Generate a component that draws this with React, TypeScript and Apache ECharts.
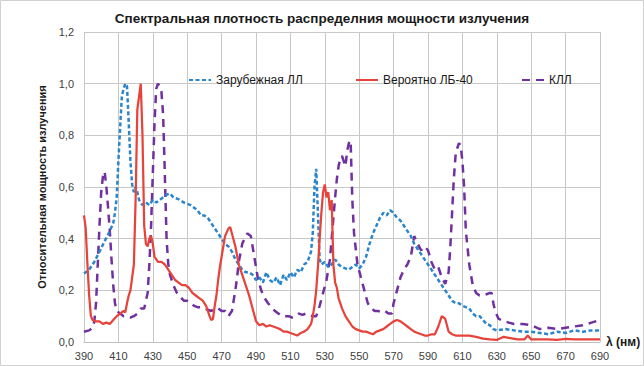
import React, { useEffect, useRef } from "react";
import * as echarts from "echarts";

const TITLE = "Спектральная плотность распределния мощности излучения";
const Y_NAME = "Относительная мощность излучения";
const X_NAME = "λ (нм)";
const SERIES_NAMES = ["Зарубежная ЛЛ", "Вероятно ЛБ-40", "КЛЛ"];

const blueWl = [390,393,396,399,402,405,407,408,409,410,411,412,413,414,415,416,417,418,419,420,421,422,424,426,428,430,432,434,436,438,440,442,444,446,448,450,452,454,456,458,460,462,464,466,468,470,472,474,476,478,480,482,484,486,488,490,492,494,496,498,500,502,504,506,508,510,512,514,516,518,520,522,523,524,525,526,527,528,530,532,534,536,538,540,542,544,546,548,550,552,554,556,558,560,562,564,566,568,570,572,574,576,578,580,582,584,586,588,590,592,594,596,598,600,602,604,606,608,610,612,614,616,618,620,622,624,626,628,630,635,640,645,650,655,660,665,670,675,680,685,690];
const blueVal = [0.265,0.28,0.31,0.35,0.39,0.43,0.46,0.5,0.56,0.7,0.83,0.95,0.98,1.0,0.99,0.85,0.7,0.61,0.58,0.6,0.58,0.55,0.53,0.54,0.53,0.55,0.54,0.55,0.56,0.57,0.575,0.56,0.555,0.55,0.54,0.535,0.53,0.52,0.51,0.49,0.49,0.48,0.46,0.44,0.42,0.4,0.38,0.37,0.35,0.32,0.3,0.28,0.27,0.27,0.26,0.24,0.25,0.23,0.27,0.24,0.23,0.25,0.22,0.26,0.24,0.27,0.25,0.28,0.27,0.3,0.31,0.35,0.42,0.6,0.67,0.5,0.32,0.3,0.31,0.29,0.3,0.32,0.3,0.29,0.285,0.28,0.29,0.3,0.285,0.3,0.33,0.38,0.42,0.45,0.48,0.5,0.49,0.51,0.5,0.48,0.47,0.45,0.43,0.41,0.38,0.36,0.34,0.32,0.3,0.28,0.26,0.24,0.22,0.2,0.18,0.16,0.15,0.15,0.14,0.135,0.13,0.11,0.1,0.1,0.085,0.07,0.065,0.05,0.045,0.05,0.045,0.04,0.04,0.035,0.03,0.04,0.035,0.045,0.04,0.045,0.045];

const redWl = [390,391,392,393,394,395,397,399,401,403,405,407,409,411,413,414,415,416,417,418,419,420,421,422,423,424,425,426,427,428,429,430,431,433,435,437,439,441,443,445,447,449,451,453,455,457,459,461,462,463,464,465,466,467,468,469,470,472,474,475,476,478,480,482,484,486,488,490,492,494,496,498,500,502,504,506,508,510,512,514,516,518,520,522,523,524,525,526,527,528,529,530,531,532,533,534,535,536,537,538,540,542,544,546,548,550,552,554,556,558,560,562,564,566,568,570,572,574,576,578,580,582,584,586,588,590,592,594,596,598,600,602,604,606,610,614,618,622,626,630,634,638,642,646,648,650,655,660,665,670,675,680,685,690];
const redVal = [0.49,0.44,0.3,0.18,0.1,0.085,0.08,0.08,0.07,0.075,0.07,0.085,0.1,0.11,0.12,0.115,0.15,0.18,0.2,0.25,0.3,0.55,0.9,0.95,1.0,0.8,0.45,0.38,0.37,0.4,0.41,0.38,0.33,0.31,0.31,0.3,0.28,0.26,0.24,0.23,0.22,0.22,0.21,0.19,0.18,0.17,0.16,0.14,0.12,0.1,0.085,0.09,0.14,0.18,0.24,0.29,0.33,0.41,0.44,0.445,0.42,0.37,0.3,0.26,0.22,0.18,0.13,0.08,0.065,0.07,0.06,0.065,0.06,0.055,0.05,0.04,0.04,0.035,0.03,0.025,0.035,0.04,0.05,0.07,0.1,0.14,0.2,0.29,0.4,0.5,0.58,0.61,0.56,0.58,0.51,0.55,0.3,0.23,0.21,0.17,0.13,0.1,0.08,0.06,0.05,0.045,0.04,0.04,0.035,0.03,0.04,0.045,0.05,0.06,0.07,0.08,0.085,0.08,0.07,0.06,0.05,0.04,0.035,0.03,0.025,0.025,0.03,0.03,0.06,0.1,0.09,0.04,0.03,0.025,0.025,0.025,0.02,0.013,0.01,0.008,0.02,0.015,0.01,0.01,0.025,0.01,0.01,0.01,0.008,0.012,0.01,0.01,0.01,0.01];

const purpleWl = [390,393,395,396,397,398,399,400,401,402,403,404,405,406,407,408,409,411,413,415,417,419,421,423,425,426,427,428,429,430,431,432,433,434,435,436,437,438,439,440,442,444,446,448,450,452,454,456,458,460,462,464,466,468,470,472,474,476,477,478,479,480,482,484,485,487,489,491,493,495,497,499,501,503,505,507,509,511,513,515,517,519,521,523,525,527,529,531,533,535,536,537,538,539,540,541,542,543,544,545,546,547,548,549,551,553,555,557,559,561,563,565,567,569,570,572,574,576,578,580,582,584,586,588,590,592,594,596,598,600,602,603,604,605,606,607,608,609,610,611,612,614,616,618,620,622,624,626,627,628,629,631,634,637,640,645,650,655,660,665,670,675,680,685,690];
const purpleVal = [0.04,0.045,0.055,0.08,0.15,0.3,0.45,0.58,0.64,0.66,0.6,0.52,0.43,0.32,0.22,0.15,0.12,0.11,0.1,0.1,0.095,0.1,0.11,0.13,0.13,0.16,0.19,0.3,0.45,0.65,0.85,0.98,1.0,0.99,0.97,0.88,0.65,0.4,0.3,0.26,0.22,0.19,0.175,0.16,0.16,0.15,0.14,0.135,0.135,0.13,0.125,0.12,0.13,0.13,0.12,0.12,0.1,0.12,0.16,0.2,0.25,0.31,0.38,0.41,0.42,0.41,0.33,0.25,0.2,0.17,0.15,0.135,0.12,0.11,0.1,0.1,0.1,0.095,0.1,0.11,0.105,0.11,0.105,0.1,0.1,0.14,0.19,0.24,0.32,0.48,0.56,0.63,0.68,0.71,0.72,0.7,0.68,0.74,0.77,0.78,0.55,0.42,0.36,0.3,0.25,0.2,0.15,0.13,0.12,0.12,0.115,0.12,0.11,0.11,0.15,0.2,0.25,0.28,0.3,0.33,0.41,0.38,0.355,0.37,0.355,0.31,0.28,0.29,0.25,0.225,0.27,0.37,0.5,0.63,0.72,0.75,0.77,0.76,0.7,0.6,0.43,0.3,0.22,0.19,0.18,0.18,0.185,0.19,0.19,0.15,0.12,0.09,0.08,0.075,0.07,0.07,0.065,0.05,0.055,0.05,0.055,0.06,0.065,0.075,0.085];

const FONT = "'Liberation Sans', Arial, sans-serif";

const pairs = (xs: number[], ys: number[]) => xs.map((x, i) => [x, ys[i]]);

export default function App() {
  const ref = useRef<HTMLDivElement>(null);
  useEffect(() => {
    if (!ref.current) return;
    const chart = echarts.init(ref.current, undefined, { renderer: "svg" });
    const legendText = { fontFamily: FONT, fontSize: 12, color: "#1a1a1a" };
    const legendBase = {
      top: 69,
      itemWidth: 22,
      itemHeight: 14,
      itemGap: 2,
      textStyle: legendText,
      itemStyle: { opacity: 0 },
    };
    chart.setOption({
      animation: false,
      backgroundColor: "#ffffff",
      textStyle: { fontFamily: FONT },
      title: {
        text: TITLE,
        left: "center",
        top: 6,
        textStyle: { fontFamily: FONT, fontSize: 13.5, fontWeight: "bold", color: "#1a1a1a" },
      },
      graphic: [
        {
          type: "rect",
          shape: { x: 0.5, y: 0.5, width: 643, height: 365 },
          style: { fill: "none", stroke: "#d0d0d0", lineWidth: 1 },
          silent: true,
        },
      ],
      legend: [
        { ...legendBase, data: [SERIES_NAMES[0]], left: 183 },
        { ...legendBase, data: [SERIES_NAMES[1]], left: 350 },
        { ...legendBase, data: [SERIES_NAMES[2]], left: 516 },
      ],
      grid: { left: 84, right: 44, top: 32, bottom: 24, containLabel: false },
      xAxis: {
        type: "value",
        min: 390,
        max: 690,
        interval: 20,
        name: X_NAME,
        nameLocation: "end",
        nameGap: 6,
        nameTextStyle: { fontFamily: FONT, fontSize: 12, fontWeight: "bold", color: "#1a1a1a", verticalAlign: "middle", padding: [0, 0, 10, 0] },
        axisLine: { show: true, lineStyle: { color: "#bfbfbf", width: 1 } },
        axisTick: { show: false },
        axisLabel: { fontFamily: FONT, fontSize: 11, color: "#404040", margin: 8 },
        splitLine: { show: true, lineStyle: { color: "#c8c8c8", width: 1 } },
      },
      yAxis: {
        type: "value",
        min: 0,
        max: 1.2,
        interval: 0.2,
        name: Y_NAME,
        nameLocation: "middle",
        nameGap: 30,
        nameRotate: 90,
        nameTextStyle: { fontFamily: FONT, fontSize: 11, fontWeight: "bold", color: "#1a1a1a" },
        axisLine: { show: false },
        axisTick: { show: false },
        axisLabel: {
          fontFamily: FONT,
          fontSize: 11,
          color: "#404040",
          margin: 10,
          formatter: (v: number) => v.toFixed(1).replace(".", ","),
        },
        splitLine: { show: true, lineStyle: { color: "#c8c8c8", width: 1 } },
      },
      series: [
        {
          name: SERIES_NAMES[0],
          type: "line",
          data: pairs(blueWl, blueVal),
          showSymbol: false,
          symbol: "none",
          lineStyle: { color: "#2a86cc", width: 2.5, type: [4, 2.5] },
          itemStyle: { color: "#2a86cc" },
          z: 3,
        },
        {
          name: SERIES_NAMES[1],
          type: "line",
          data: pairs(redWl, redVal),
          showSymbol: false,
          symbol: "none",
          lineStyle: { color: "#e8433b", width: 2.25 },
          itemStyle: { color: "#e8433b" },
          z: 4,
        },
        {
          name: SERIES_NAMES[2],
          type: "line",
          data: pairs(purpleWl, purpleVal),
          showSymbol: false,
          symbol: "none",
          lineStyle: { color: "#7030a0", width: 2.5, type: [8, 6] },
          itemStyle: { color: "#7030a0" },
          z: 2,
        },
      ],
    });
    return () => chart.dispose();
  }, []);
  return (
    <div style={{ position: "fixed", left: 0, top: 0, width: 644, height: 366 }}>
      <div ref={ref} style={{ width: 644, height: 366 }} />
    </div>
  );
}
